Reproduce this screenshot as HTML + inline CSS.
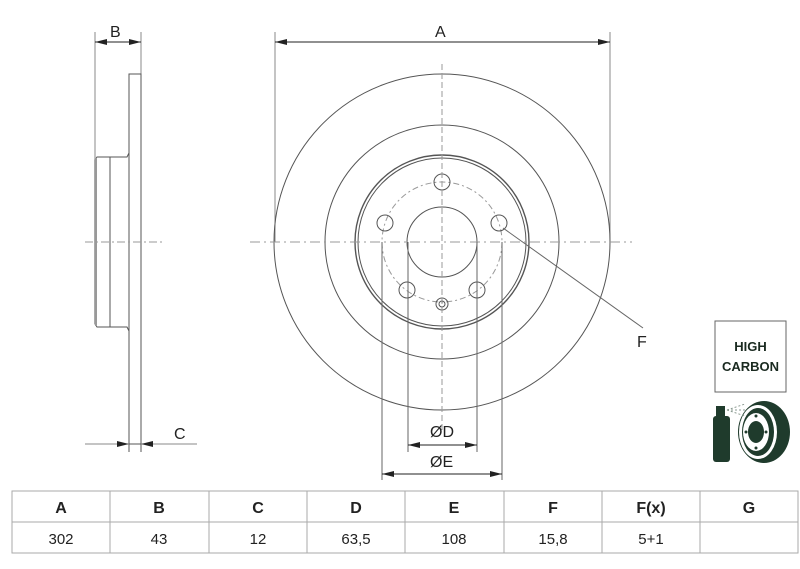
<!DOCTYPE html>
<html><head><meta charset="utf-8"><style>
html,body{margin:0;padding:0;background:#fff;}
svg{display:block;font-family:"Liberation Sans",sans-serif;}
</style></head><body>
<svg width="800" height="569" viewBox="0 0 800 569" xmlns="http://www.w3.org/2000/svg">
<defs>
<marker id="ar" markerWidth="12" markerHeight="8" refX="12" refY="4" orient="auto" markerUnits="userSpaceOnUse"><path d="M0,1 L12,4 L0,7 Z" fill="#222"/></marker>
</defs>
<g stroke="#555" fill="none" stroke-width="1">
<!-- side view -->
<line x1="95" y1="32" x2="95" y2="165" stroke="#888"/>
<line x1="141" y1="32" x2="141" y2="74" stroke="#888"/>
<line x1="95" y1="42" x2="141" y2="42" stroke="#222" marker-end="url(#ar)"/>
<line x1="141" y1="42" x2="95" y2="42" stroke="#222" marker-end="url(#ar)"/>
<rect x="129" y="74" width="12" height="370"/>
<path d="M129,153 L127,157 L110,157 L110,327 L127,327 L129,331"/>
<path d="M110,157 L97,157 L95,160 L95,324 L97,327 L110,327"/>
<line x1="96" y1="158" x2="96" y2="326" stroke="#999" stroke-width="2"/>
<line x1="129" y1="444" x2="129" y2="452"/>
<line x1="141" y1="444" x2="141" y2="452"/>
<line x1="85" y1="242" x2="165" y2="242" stroke="#999" stroke-dasharray="8,3,2,3"/>
<line x1="85" y1="444" x2="129" y2="444" stroke="#888" marker-end="url(#ar)"/>
<line x1="197" y1="444" x2="141" y2="444" stroke="#888" marker-end="url(#ar)"/>
<!-- front view -->
<line x1="275" y1="32" x2="275" y2="242" stroke="#888"/>
<line x1="610" y1="32" x2="610" y2="242" stroke="#888"/>
<line x1="275" y1="42" x2="610" y2="42" stroke="#222" marker-end="url(#ar)"/>
<line x1="610" y1="42" x2="275" y2="42" stroke="#222" marker-end="url(#ar)"/>
<circle cx="442" cy="242" r="168"/>
<circle cx="442" cy="242" r="117"/>
<circle cx="442" cy="242" r="87" stroke-width="1.4"/>
<circle cx="442" cy="242" r="84"/>
<circle cx="442" cy="242" r="35"/>
<circle cx="442" cy="242" r="60" stroke="#999" stroke-dasharray="6,3,2,3"/>
<circle cx="442" cy="182" r="8"/>
<circle cx="385" cy="223" r="8"/>
<circle cx="499" cy="223" r="8"/>
<circle cx="407" cy="290" r="8"/>
<circle cx="477" cy="290" r="8"/>
<circle cx="442" cy="304" r="6"/>
<circle cx="442" cy="304" r="3"/>
<line x1="250" y1="242" x2="632" y2="242" stroke="#999" stroke-dasharray="10,4,2,4"/>
<line x1="442" y1="64" x2="442" y2="430" stroke="#999" stroke-dasharray="6,3"/>
<line x1="503" y1="228" x2="643" y2="328" stroke="#666"/>
<line x1="408" y1="242" x2="408" y2="452" stroke="#666"/>
<line x1="477" y1="242" x2="477" y2="452" stroke="#666"/>
<line x1="382" y1="242" x2="382" y2="480" stroke="#666"/>
<line x1="502" y1="242" x2="502" y2="480" stroke="#666"/>
<line x1="408" y1="445" x2="477" y2="445" stroke="#222" marker-end="url(#ar)"/>
<line x1="477" y1="445" x2="408" y2="445" stroke="#222" marker-end="url(#ar)"/>
<line x1="382" y1="474" x2="502" y2="474" stroke="#222" marker-end="url(#ar)"/>
<line x1="502" y1="474" x2="382" y2="474" stroke="#222" marker-end="url(#ar)"/>
</g>
<g fill="#222" font-size="16">
<text x="110" y="37">B</text>
<text x="435" y="37">A</text>
<text x="174" y="439">C</text>
<text x="637" y="347">F</text>
<text x="430" y="437">ØD</text>
<text x="430" y="467">ØE</text>
</g>
<!-- high carbon badge -->
<rect x="715" y="321" width="71" height="71" fill="#fff" stroke="#666"/>
<text x="750.5" y="351" text-anchor="middle" font-size="13" font-weight="bold" fill="#1a2a20">HIGH</text>
<text x="750.5" y="371" text-anchor="middle" font-size="13" font-weight="bold" fill="#1a2a20">CARBON</text>
<g fill="#1f3b2c">
<rect x="713" y="416" width="17" height="46" rx="3"/>
<rect x="716" y="406" width="9" height="10"/>
<ellipse cx="764" cy="432" rx="26" ry="31"/>
<ellipse cx="758" cy="432" rx="19" ry="27" fill="#fff"/>
<ellipse cx="758" cy="432" rx="16" ry="24"/>
<ellipse cx="756" cy="432" rx="13" ry="19" fill="#fff"/>
<ellipse cx="756" cy="432" rx="8" ry="11"/>
</g>
<g fill="#1f3b2c"><circle cx="756" cy="416" r="1.5"/><circle cx="756" cy="448" r="1.5"/><circle cx="746" cy="432" r="1.5"/><circle cx="766" cy="432" r="1.5"/></g>
<g stroke="#8a9a90" stroke-dasharray="2,2"><line x1="727" y1="410" x2="745" y2="404"/><line x1="727" y1="410" x2="745" y2="410"/><line x1="727" y1="410" x2="745" y2="416"/></g>
<!-- table -->
<g stroke="#aaa" fill="none">
<rect x="12" y="491" width="786" height="62"/>
<line x1="12" y1="522" x2="798" y2="522"/>
<line x1="110" y1="491" x2="110" y2="553"/>
<line x1="209" y1="491" x2="209" y2="553"/>
<line x1="307" y1="491" x2="307" y2="553"/>
<line x1="405" y1="491" x2="405" y2="553"/>
<line x1="504" y1="491" x2="504" y2="553"/>
<line x1="602" y1="491" x2="602" y2="553"/>
<line x1="700" y1="491" x2="700" y2="553"/>
</g>
<g fill="#222" text-anchor="middle" font-size="16" font-weight="bold">
<text x="61" y="513">A</text><text x="159" y="513">B</text><text x="258" y="513">C</text><text x="356" y="513">D</text><text x="454" y="513">E</text><text x="553" y="513">F</text><text x="651" y="513">F(x)</text><text x="749" y="513">G</text>
</g>
<g fill="#222" text-anchor="middle" font-size="15">
<text x="61" y="544">302</text><text x="159" y="544">43</text><text x="258" y="544">12</text><text x="356" y="544">63,5</text><text x="454" y="544">108</text><text x="553" y="544">15,8</text><text x="651" y="544">5+1</text>
</g>
</svg>
</body></html>
